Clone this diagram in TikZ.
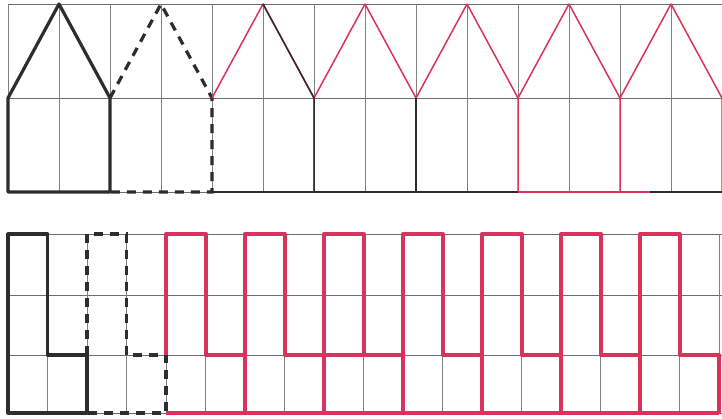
\documentclass[tikz,border=0pt]{standalone}
\definecolor{penred}{RGB}{218,50,92}
\definecolor{penblack}{RGB}{45,45,45}
\definecolor{gridgray}{RGB}{110,110,110}
\begin{document}
\begin{tikzpicture}[x=1pt,y=-1pt,
  gridline/.style={gridgray,line width=0.8pt},
  pen/.style={penblack,line width=3.2pt,line join=round},
  dashpen/.style={penblack,line width=3.2pt,dash pattern=on 9pt off 7pt},
  redthin/.style={penred,line width=1.5pt,line join=round},
  redthick/.style={penred,line width=4pt,line join=round}]
  \useasboundingbox (0,0) rectangle (722,418);
  \fill[white] (0,0) rectangle (722,418);
  \foreach \y in {4,98,192}
    \draw[gridline] (8,\y) -- (722,\y);
  \foreach \i in {0,...,14}
    \draw[gridline,gray] (8+51*\i,4) -- (8+51*\i,192);
  \foreach \y in {234,295,355,413}
    \draw[gridline] (8,\y) -- (722,\y);
  \foreach \i in {0,...,18}
    \draw[gridline,gray] (8+39.5*\i,234) -- (8+39.5*\i,413);
  \draw[pen] (8,192) -- (8,98) -- (59,4) -- (110,98) -- (110,192) -- cycle;
  \draw[dashpen] (110,98) -- (161,4) -- (212,98) -- (212,192) -- (110,192);
  \foreach \k in {0,...,4}
    \draw[redthin] (212+102*\k,98) -- (263+102*\k,4) -- (314+102*\k,98) -- (314+102*\k,192);
  \draw[penblack,line width=1.5pt] (263,4) -- (314,98) -- (314,192);
  \draw[penblack,line width=1.2pt] (416,98) -- (416,192);
  \draw[penblack,line width=1.5pt] (212,192) -- (518,192);
  \draw[redthin] (518,192) -- (650,192);
  \draw[penblack,line width=1.5pt] (650,192) -- (722,192);
  \draw[pen] (8,234) -- (47.5,234) -- (47.5,355) -- (87,355) -- (87,413) -- (8,413) -- cycle;
  \draw[dashpen] (87,355) -- (87,234) -- (126.5,234) -- (126.5,355) -- (166,355) -- (166,413) -- (87,413);
  \draw[redthick] (166,355) -- (166,234) -- (205.5,234) -- (205.5,355) -- (245,355);
  \foreach \k in {1,...,6}
    \draw[redthick] (166+79*\k,413) -- (166+79*\k,234) -- (205.5+79*\k,234) -- (205.5+79*\k,355) -- (245+79*\k,355) -- (245+79*\k,413);
  \draw[redthick] (324,355) -- (363.5,355);
  \draw[redthick] (166,413) -- (719,413);
\end{tikzpicture}
\end{document}
